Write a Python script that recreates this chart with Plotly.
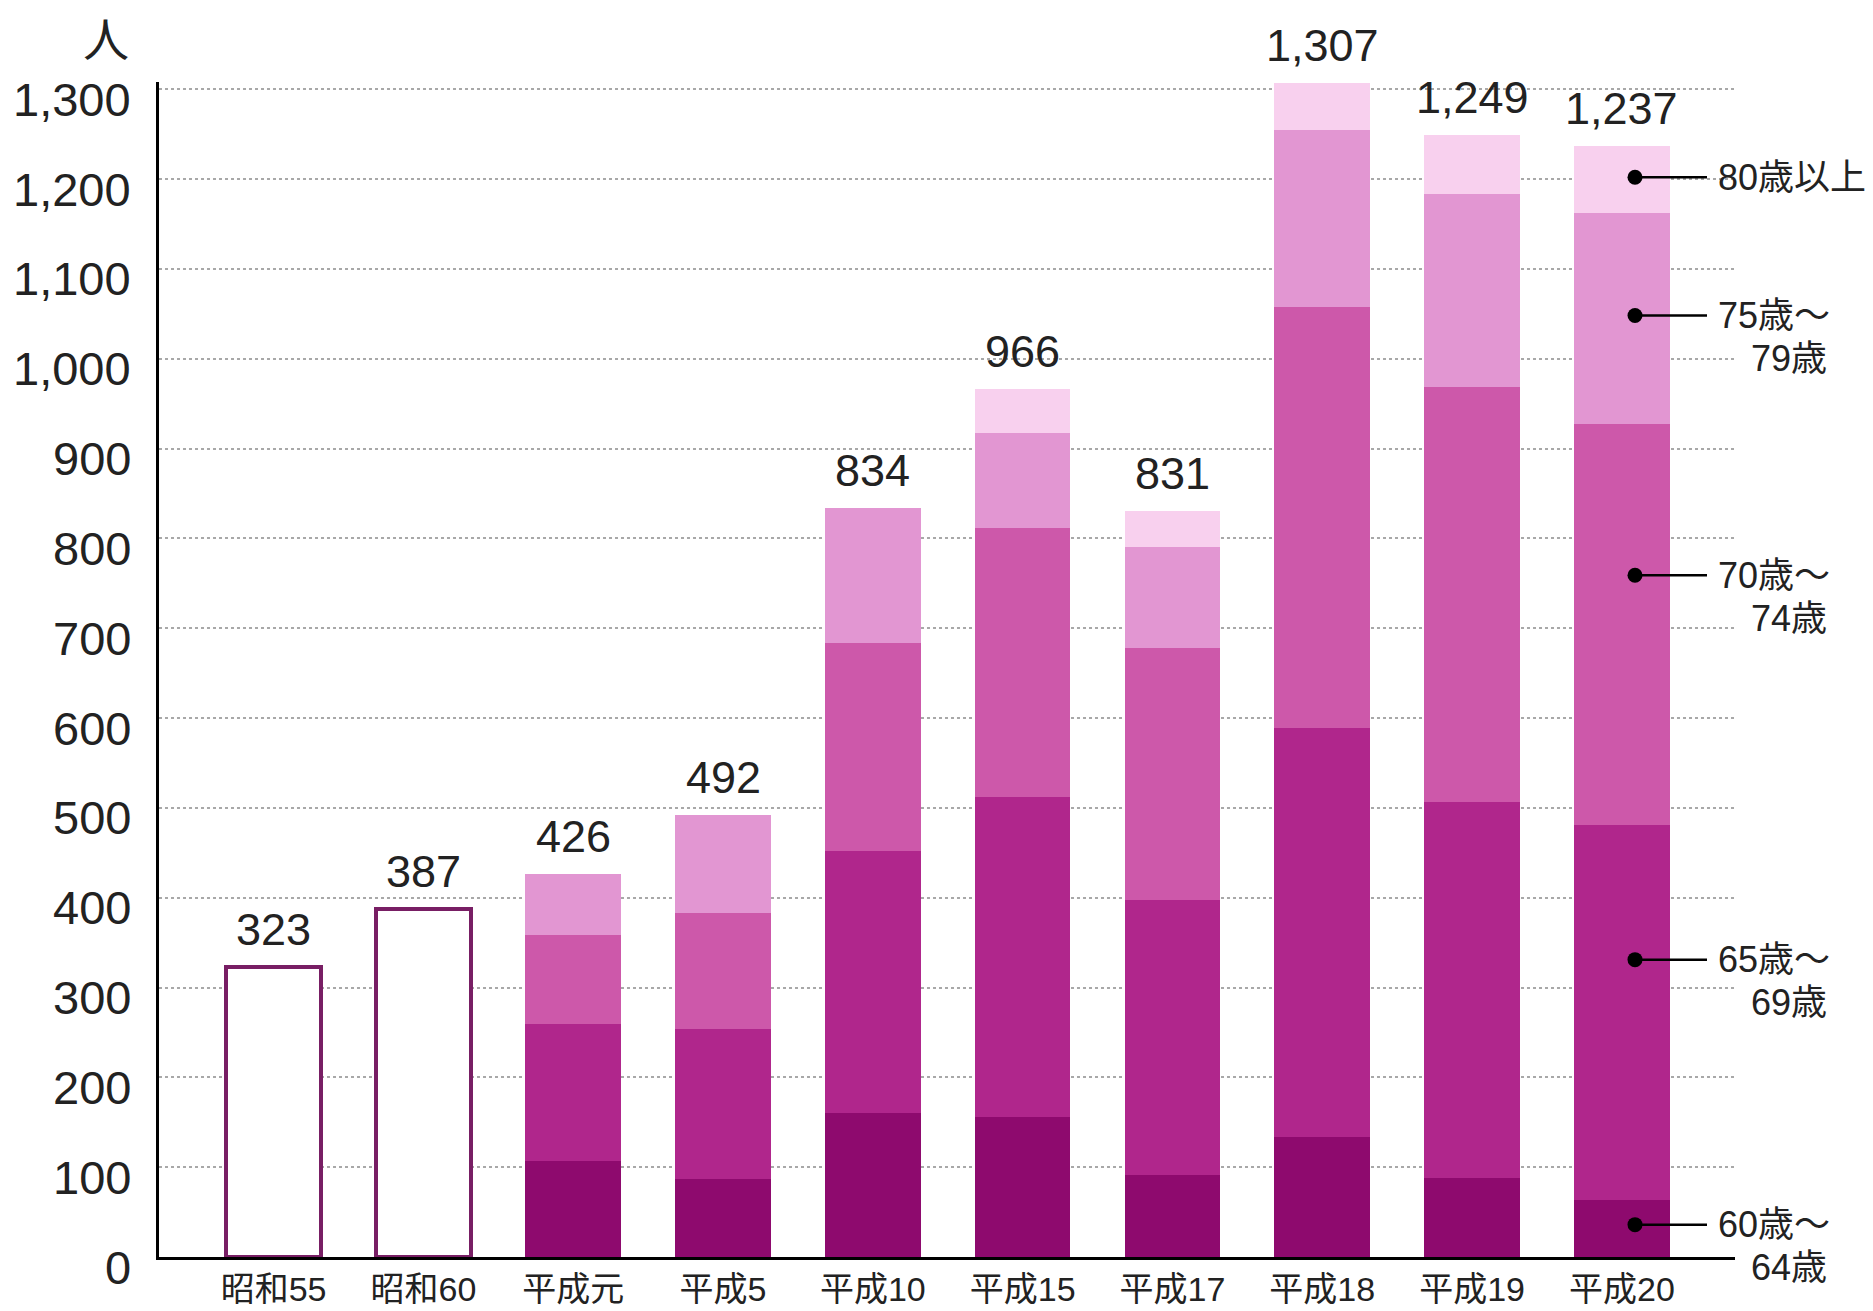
import plotly.graph_objects as go

# ---------------- data ----------------
categories = ["昭和55", "昭和60", "平成元", "平成5", "平成10", "平成15", "平成17", "平成18", "平成19", "平成20"]
totals = [323, 387, 426, 492, 834, 966, 831, 1307, 1249, 1237]
early_totals = [323, 387, None, None, None, None, None, None, None, None]
age_60_64 = [None, None, 107, 87, 160, 156, 91, 134, 88, 64]
age_65_69 = [None, None, 152, 167, 292, 356, 306, 455, 418, 417]
age_70_74 = [None, None, 99, 129, 232, 299, 281, 469, 463, 446]
age_75_79 = [None, None, 68, 109, 150, 106, 112, 197, 214, 235]
age_80_up = [None, None, None, None, None, 49, 41, 52, 66, 75]
series_names = ["60歳～64歳", "65歳～69歳", "70歳～74歳", "75歳～79歳", "80歳以上"]
label_line1 = ["60歳～", "65歳～", "70歳～", "75歳～", "80歳以上"]
label_line2 = ["64歳", "69歳", "74歳", "79歳", ""]
y_tick_values = [0, 100, 200, 300, 400, 500, 600, 700, 800, 900, 1000, 1100, 1200, 1300]
y_tick_labels = ["0", "100", "200", "300", "400", "500", "600", "700", "800", "900",
                 "1,000", "1,100", "1,200", "1,300"]
unit_label = "人"

# ---------------- style / layout ----------------
OFF = 8                      # default page body margin
W, H = 1873 - OFF, 1311 - OFF
PLOT_LEFT, PLOT_RIGHT, PLOT_TOP, PLOT_BOTTOM = 159, 1735, 82, 1257   # window pixels
PL = PLOT_LEFT - OFF
PR = (OFF + W) - PLOT_RIGHT
PT = PLOT_TOP - OFF
PB = (OFF + H) - PLOT_BOTTOM
Y_RANGE = [0, 1308]
X_RANGE = [-0.765, 9.755]
COLORS = ["#8e0a6e", "#b0268c", "#cd58aa", "#e296d2", "#f8d0ee"]
OUTLINE = "#781e64"
FONT = "Liberation Sans, Arial, Noto Sans CJK JP"
TXT = "#222222"
LABEL_Y = [36, 331, 759, 1048, 1202]  # vertical positions of the right-hand labels

plot_w = PLOT_RIGHT - PLOT_LEFT
plot_h = PLOT_BOTTOM - PLOT_TOP


def px_to_x(p):
    return X_RANGE[0] + (p - PLOT_LEFT) / plot_w * (X_RANGE[1] - X_RANGE[0])


def px_to_paper(p):
    return (p - PLOT_LEFT) / plot_w


def py_to_paper(p):
    return (PLOT_BOTTOM - p) / plot_h


fig = go.Figure()

fig.add_trace(go.Bar(
    x=categories, y=early_totals, name="総数",
    marker=dict(color="white", line=dict(color=OUTLINE, width=4)),
    showlegend=False, hoverinfo="x+y",
))

for vals, name, col in zip([age_60_64, age_65_69, age_70_74, age_75_79, age_80_up],
                           series_names, COLORS):
    fig.add_trace(go.Bar(
        x=categories, y=vals, name=name,
        marker=dict(color=col, line=dict(width=0)),
        showlegend=False,
    ))

# dots of the right-hand labels
dot_x = px_to_x(1635)
fig.add_trace(go.Scatter(
    x=[dot_x] * len(LABEL_Y), y=LABEL_Y, mode="markers",
    marker=dict(color="black", size=15), cliponaxis=False,
    showlegend=False, hoverinfo="skip", xaxis="x2",
))

shapes = []
for yv in LABEL_Y:
    shapes.append(dict(type="line", xref="x2", yref="y",
                       x0=dot_x, x1=px_to_x(1707), y0=yv, y1=yv,
                       line=dict(color="black", width=2.5)))

annotations = []
# totals above bars
for c, t in zip(categories, totals):
    annotations.append(dict(x=c, y=t, xref="x", yref="y", text=f"{t:,}",
                            showarrow=False, yanchor="bottom", yshift=10,
                            font=dict(family=FONT, size=45, color=TXT)))
# y tick labels
for v, lab in zip(y_tick_values, y_tick_labels):
    annotations.append(dict(x=0, y=v, xref="paper", yref="y", text=lab,
                            showarrow=False, xanchor="right", yanchor="middle",
                            xshift=-26, yshift=-10,
                            font=dict(family=FONT, size=47, color=TXT)))
# unit label
annotations.append(dict(x=px_to_paper(106), y=py_to_paper(40), xref="paper", yref="paper",
                        text=unit_label, showarrow=False, xanchor="center", yanchor="middle",
                        font=dict(family=FONT, size=46, color=TXT)))
# right-hand labels
for yv, l1, l2 in zip(LABEL_Y, label_line1, label_line2):
    annotations.append(dict(x=px_to_paper(1716), y=yv, xref="paper", yref="y", text=l1,
                            showarrow=False, xanchor="left", yanchor="middle",
                            font=dict(family=FONT, size=36, color=TXT)))
    if l2:
        annotations.append(dict(x=px_to_paper(1829), y=yv, xref="paper", yref="y", text=l2,
                                showarrow=False, xanchor="right", yanchor="middle",
                                yshift=-43,
                                font=dict(family=FONT, size=36, color=TXT)))

fig.update_layout(
    width=W, height=H,
    margin=dict(l=PL, r=PR, t=PT, b=PB, pad=0),
    barmode="stack", bargap=0.362,
    plot_bgcolor="white", paper_bgcolor="white",
    font=dict(family=FONT, color=TXT),
    xaxis=dict(range=X_RANGE, showline=True, linecolor="black", linewidth=3,
               showgrid=False, zeroline=False, ticks="", automargin=False,
               tickfont=dict(family=FONT, size=34, color=TXT),
               ticklabelstandoff=0, fixedrange=True),
    xaxis2=dict(range=X_RANGE, overlaying="x", visible=False, fixedrange=True),
    yaxis=dict(range=Y_RANGE, showline=True, linecolor="black", linewidth=3,
               showgrid=True, gridcolor="#a8a8a8", gridwidth=2, griddash="dot",
               zeroline=False, tickvals=y_tick_values, showticklabels=False,
               ticks="", automargin=False, fixedrange=True),
    shapes=shapes,
    annotations=annotations,
    showlegend=False,
)

fig.write_html("out.html")
